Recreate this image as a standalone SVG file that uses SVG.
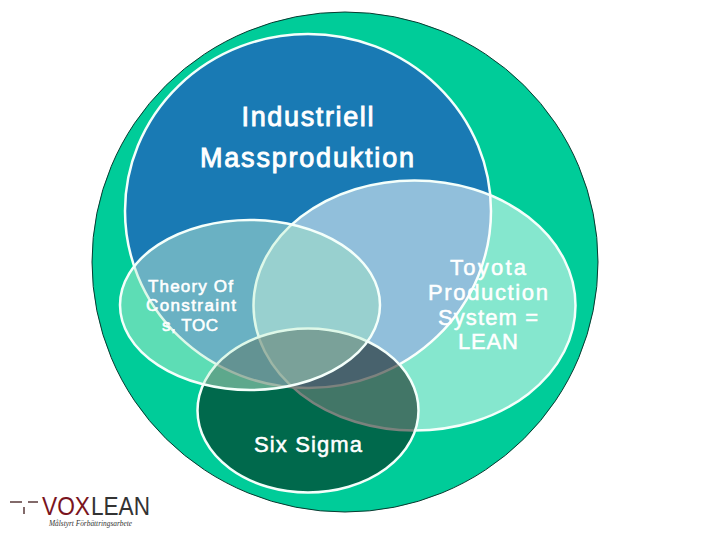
<svg xmlns="http://www.w3.org/2000/svg" width="720" height="540" viewBox="0 0 720 540">
<style>
.c{stroke:#f4fffb;stroke-width:2.500}
.t{font-family:"Liberation Sans",Arial,sans-serif;fill:#fff;text-anchor:middle}
.b{font-size:27px;stroke:#fff;stroke-width:.9}
.tp{font-size:22px;stroke:#fff;stroke-width:.5}
.tc{font-size:17px;stroke:#fff;stroke-width:.6}
</style>
<defs>
<clipPath id="inToyota"><ellipse cx="414.5" cy="305.5" rx="161" ry="125"/></clipPath>
</defs>
<rect width="720" height="540" fill="#fff"/>
<g id="outer"><ellipse cx="345" cy="262" rx="253" ry="250" fill="#00CC99" stroke="#0a3a30" stroke-width="1"/></g>
<g id="industriell">
<ellipse class="c" cx="308" cy="211" rx="183" ry="177" fill="#197AB4"/>
<text class="t b" x="307.500" y="126" textLength="132" lengthAdjust="spacing">Industriell</text>
<text class="t b" x="307" y="167" textLength="214" lengthAdjust="spacing">Massproduktion</text>
</g>
<g id="toyota">
<ellipse cx="414.5" cy="305.5" rx="161" ry="125" fill="#fff" fill-opacity=".52"/>
<ellipse cx="250" cy="305" rx="130" ry="85" fill="#4FA7BA" fill-opacity=".5" clip-path="url(#inToyota)"/>
<ellipse class="c" cx="414.5" cy="305.5" rx="161" ry="125" fill="none"/>
</g>
<g id="sixsigma">
<ellipse class="c" cx="308" cy="410.5" rx="110.500" ry="82" fill="#000500" fill-opacity=".5"/>
<text class="t tp" x="308" y="452" textLength="108" lengthAdjust="spacing">Six Sigma</text>
</g>
<g id="toc">
<ellipse class="c" cx="250" cy="305" rx="130" ry="85" fill="#C6F0D5" fill-opacity=".47"/>
<text class="t tc" x="190.500" y="292" textLength="85" lengthAdjust="spacing">Theory Of</text>
<text class="t tc" x="191" y="311" textLength="90" lengthAdjust="spacing">Constraint</text>
<text class="t tc" x="190" y="331" textLength="56" lengthAdjust="spacing">s, TOC</text>
</g>
<g id="toyota-label">
<text class="t tp" x="488" y="275" textLength="76" lengthAdjust="spacing">Toyota</text>
<text class="t tp" x="488" y="300" textLength="120" lengthAdjust="spacing">Production</text>
<text class="t tp" x="488" y="325" textLength="100" lengthAdjust="spacing">System =</text>
<text class="t tp" x="488" y="349" textLength="60" lengthAdjust="spacing">LEAN</text>
</g>
<g id="connectors"/>
<g id="logo">
<path d="M10 502H22M28 502H38M24 507V514" fill="none" stroke="#5a3a3a" stroke-width="1.500"/>
<text x="42" y="515" font-family="'Liberation Sans',Arial,sans-serif" font-size="25" fill="#7a1420" textLength="48" lengthAdjust="spacingAndGlyphs">VOX</text>
<text x="91" y="515" font-family="'Liberation Sans',Arial,sans-serif" font-size="25" fill="#333" textLength="59" lengthAdjust="spacingAndGlyphs">LEAN</text>
<text x="49" y="526" font-family="'Liberation Serif',serif" font-style="italic" font-size="8" fill="#333" textLength="83" lengthAdjust="spacingAndGlyphs">Målstyrt Förbättringsarbete</text>
</g>
</svg>
